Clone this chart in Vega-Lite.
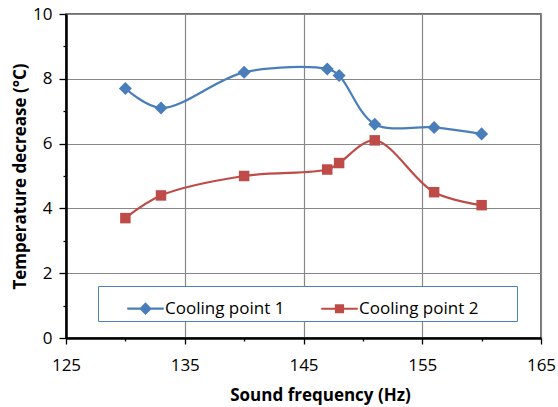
{
  "$schema": "https://vega.github.io/schema/vega-lite/v6.json",
  "width": 475,
  "height": 324,
  "autosize": {"type": "none"},
  "padding": {"left": 66, "top": 14, "right": 17, "bottom": 69},
  "background": "white",
  "config": {
    "font": "Open Sans",
    "view": {"stroke": "#404040", "strokeWidth": 1.5},
    "axis": {
      "grid": true,
      "gridColor": "#878787",
      "gridWidth": 1.2,
      "domainColor": "black",
      "domainWidth": 2.5,
      "tickColor": "black",
      "tickWidth": 1.3,
      "labelFontSize": 17,
      "labelColor": "black",
      "labelFlush": false,
      "labelOverlap": false,
      "titleFontSize": 17,
      "titleFontWeight": "bold",
      "titleColor": "black"
    }
  },
  "data": {
    "values": [
      {"series": "Cooling point 1", "freq": 130, "temp": 7.7},
      {"series": "Cooling point 1", "freq": 133, "temp": 7.1},
      {"series": "Cooling point 1", "freq": 140, "temp": 8.2},
      {"series": "Cooling point 1", "freq": 147, "temp": 8.3},
      {"series": "Cooling point 1", "freq": 148, "temp": 8.1},
      {"series": "Cooling point 1", "freq": 151, "temp": 6.6},
      {"series": "Cooling point 1", "freq": 156, "temp": 6.5},
      {"series": "Cooling point 1", "freq": 160, "temp": 6.3},
      {"series": "Cooling point 2", "freq": 130, "temp": 3.7},
      {"series": "Cooling point 2", "freq": 133, "temp": 4.4},
      {"series": "Cooling point 2", "freq": 140, "temp": 5.0},
      {"series": "Cooling point 2", "freq": 147, "temp": 5.2},
      {"series": "Cooling point 2", "freq": 148, "temp": 5.4},
      {"series": "Cooling point 2", "freq": 151, "temp": 6.1},
      {"series": "Cooling point 2", "freq": 156, "temp": 4.5},
      {"series": "Cooling point 2", "freq": 160, "temp": 4.1}
    ]
  },
  "encoding": {
    "x": {
      "field": "freq",
      "type": "quantitative",
      "scale": {"domain": [125, 165], "nice": false, "zero": false},
      "axis": {
        "title": "Sound frequency (Hz)",
        "values": [125, 130, 135, 140, 145, 150, 155, 160, 165],
        "labelExpr": "datum.value % 10 == 5 ? datum.label : ''",
        "tickSize": {"condition": {"test": "datum.value % 10 == 5", "value": 6}, "value": 3},
        "gridOpacity": {"condition": {"test": "datum.value % 10 == 5", "value": 1}, "value": 0},
        "labelPadding": 13,
        "titlePadding": 14,
        "titleX": 254,
        "titleAlign": "center"
      }
    },
    "y": {
      "field": "temp",
      "type": "quantitative",
      "scale": {"domain": [0, 10], "nice": false},
      "axis": {
        "title": "Temperature decrease (°C)",
        "values": [0, 1, 2, 3, 4, 5, 6, 7, 8, 9, 10],
        "labelExpr": "datum.value % 2 == 0 ? datum.label : ''",
        "tickSize": {"condition": {"test": "datum.value % 2 == 0", "value": 7}, "value": 3},
        "gridOpacity": {"condition": {"test": "datum.value % 2 == 0", "value": 1}, "value": 0},
        "labelPadding": 7,
        "titlePadding": 3
      }
    }
  },
  "layer": [
    {
      "mark": {"type": "line", "interpolate": "catmull-rom", "strokeWidth": 2.2},
      "encoding": {
        "color": {
          "field": "series",
          "type": "nominal",
          "scale": {"domain": ["Cooling point 1", "Cooling point 2"], "range": ["#4a7ebb", "#be4b48"]}
        }
      }
    },
    {
      "transform": [{"filter": "datum.series == 'Cooling point 1'"}],
      "mark": {"type": "point", "filled": true, "opacity": 1, "shape": "diamond", "size": 170, "color": "#4a7ebb"},
      "encoding": {}
    },
    {
      "transform": [{"filter": "datum.series == 'Cooling point 2'"}],
      "mark": {"type": "point", "filled": true, "opacity": 1, "shape": "square", "size": 110, "color": "#be4b48"},
      "encoding": {}
    },
    {
      "mark": {"type": "point", "filled": true, "opacity": 0},
      "encoding": {
        "color": {
          "field": "series",
          "type": "nominal",
          "legend": {
            "orient": "none",
            "legendX": 32,
            "legendY": 272,
            "direction": "horizontal",
            "title": null,
            "fillColor": "white",
            "strokeColor": "#4f81bd",
            "padding": 4,
            "symbolSize": 1225,
            "symbolOpacity": 1,
            "symbolOffset": 25,
            "labelOffset": 1,
            "labelFontSize": 17,
            "labelLimit": 400,
            "labelColor": "black",
            "columnPadding": 11,
            "labelExpr": "datum.value == 'Cooling point 2' ? datum.label + '\u00a0\u00a0\u00a0\u00a0\u00a0\u2800' : datum.label"
          }
        },
        "shape": {
          "field": "series",
          "type": "nominal",
          "scale": {
            "domain": ["Cooling point 1", "Cooling point 2"],
            "range": [
              "M-1,-0.02H1V0.02H-1Z M0,-0.3L0.3,0L0,0.3L-0.3,0Z",
              "M-1,-0.02H1V0.02H-1Z M-0.22,-0.22H0.22V0.22H-0.22Z"
            ]
          },
          "legend": {
            "orient": "none",
            "legendX": 32,
            "legendY": 272,
            "direction": "horizontal",
            "title": null,
            "fillColor": "white",
            "strokeColor": "#4f81bd",
            "padding": 4,
            "symbolSize": 1225,
            "symbolOpacity": 1,
            "symbolOffset": 25,
            "labelOffset": 1,
            "labelFontSize": 17,
            "labelLimit": 400,
            "labelColor": "black",
            "columnPadding": 11,
            "labelExpr": "datum.value == 'Cooling point 2' ? datum.label + '\u00a0\u00a0\u00a0\u00a0\u00a0\u2800' : datum.label"
          }
        }
      }
    }
  ]
}
